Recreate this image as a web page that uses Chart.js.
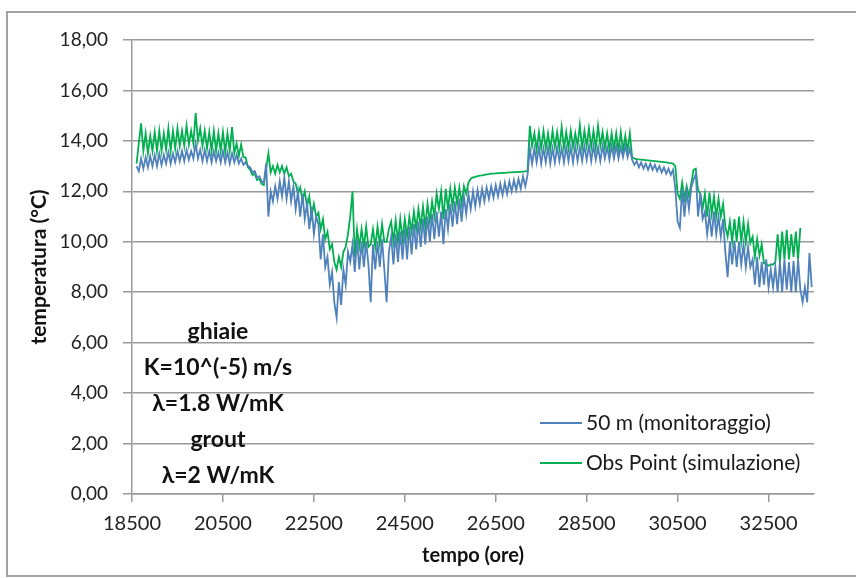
<!DOCTYPE html>
<html>
<head>
<meta charset="utf-8">
<script src="https://cdn.jsdelivr.net/npm/chart.js@4.4.0/dist/chart.umd.min.js"></script>
<style>
  html, body { margin: 0; padding: 0; background: #fff; }
  #frame { position: absolute; left: 6px; top: 11px; width: 900px; height: 566px; border: 2px solid #a3a3a3; box-sizing: border-box; }
  #chart { position: absolute; left: 0; top: 0; }
</style>
</head>
<body>
<div id="frame"></div>
<canvas id="chart" width="856" height="578"></canvas>
<script>
// tempo (ore), one row = 500 h
const hours = [
  18600, 18650, 18700, 18750, 18800, 18850, 18900, 18950, 19000, 19050,
  19100, 19150, 19200, 19250, 19300, 19350, 19400, 19450, 19500, 19550,
  19600, 19650, 19700, 19750, 19800, 19850, 19900, 19950, 20000, 20050,
  20100, 20150, 20200, 20250, 20300, 20350, 20400, 20450, 20500, 20550,
  20600, 20650, 20700, 20750, 20800, 20850, 20900, 20950, 21000, 21050,
  21100, 21150, 21200, 21250, 21300, 21350, 21400, 21450, 21500, 21550,
  21600, 21650, 21700, 21750, 21800, 21850, 21900, 21950, 22000, 22050,
  22100, 22150, 22200, 22250, 22300, 22350, 22400, 22450, 22500, 22550,
  22600, 22650, 22700, 22750, 22800, 22850, 22900, 22950, 23000, 23050,
  23100, 23150, 23200, 23250, 23300, 23350, 23400, 23450, 23500, 23550,
  23600, 23650, 23700, 23750, 23800, 23850, 23900, 23950, 24000, 24050,
  24100, 24150, 24200, 24250, 24300, 24350, 24400, 24450, 24500, 24550,
  24600, 24650, 24700, 24750, 24800, 24850, 24900, 24950, 25000, 25050,
  25100, 25150, 25200, 25250, 25300, 25350, 25400, 25450, 25500, 25550,
  25600, 25650, 25700, 25750, 25800, 25850, 25900, 25950, 26000, 26050,
  26100, 26150, 26200, 26250, 26300, 26350, 26400, 26450, 26500, 26550,
  26600, 26650, 26700, 26750, 26800, 26850, 26900, 26950, 27000, 27050,
  27100, 27150, 27200, 27250, 27300, 27350, 27400, 27450, 27500, 27550,
  27600, 27650, 27700, 27750, 27800, 27850, 27900, 27950, 28000, 28050,
  28100, 28150, 28200, 28250, 28300, 28350, 28400, 28450, 28500, 28550,
  28600, 28650, 28700, 28750, 28800, 28850, 28900, 28950, 29000, 29050,
  29100, 29150, 29200, 29250, 29300, 29350, 29400, 29450, 29500, 29550,
  29600, 29650, 29700, 29750, 29800, 29850, 29900, 29950, 30000, 30050,
  30100, 30150, 30200, 30250, 30300, 30350, 30400, 30450, 30500, 30550,
  30600, 30650, 30700, 30750, 30800, 30850, 30900, 30950, 31000, 31050,
  31100, 31150, 31200, 31250, 31300, 31350, 31400, 31450, 31500, 31550,
  31600, 31650, 31700, 31750, 31800, 31850, 31900, 31950, 32000, 32050,
  32100, 32150, 32200, 32250, 32300, 32350, 32400, 32450, 32500, 32550,
  32600, 32650, 32700, 32750, 32800, 32850, 32900, 32950, 33000, 33050,
  33100, 33150, 33200, 33250, 33300, 33350, 33400, 33450
];

// 50 m (monitoraggio)
const monitoraggio = [
  13.0, 12.8, 13.3, 12.9, 13.35, 12.95, 13.4, 13.0, 13.45, 13.0,
  13.5, 13.05, 13.45, 13.1, 13.55, 13.1, 13.5, 13.15, 13.6, 13.2,
  13.6, 13.2, 13.65, 13.25, 13.6, 13.3, 13.9, 13.3, 13.65, 13.2,
  13.65, 13.2, 13.6, 13.15, 13.6, 13.2, 13.55, 13.15, 13.6, 13.15,
  13.55, 13.1, 13.5, 13.15, 13.45, 13.1, 13.3, 13.05, 13.15, 13.0,
  12.95, 12.75, 12.8, 12.55, 12.6, 12.4, 12.35, 13.1, 11.0, 12.0,
  11.6, 12.2, 11.7, 12.4, 11.8, 12.55, 11.7, 12.4, 11.6, 12.2,
  11.3, 12.0, 11.0, 11.9, 10.9, 11.5, 10.5, 11.4, 10.3, 11.0,
  10.7, 9.3, 10.3, 9.0, 9.4, 8.3, 8.8, 7.6, 7.0, 8.4,
  7.5, 8.9, 8.3, 9.6, 9.2, 9.9, 8.8, 10.1, 8.9, 10.0,
  9.0, 10.0, 9.1, 7.6, 9.9, 8.9, 10.0, 9.0, 10.1, 8.9,
  7.6, 9.6, 10.2, 9.1, 10.3, 9.2, 10.4, 9.3, 10.5, 9.3,
  10.6, 9.5, 10.7, 9.7, 10.8, 9.8, 10.9, 9.9, 11.0, 10.0,
  11.1, 10.1, 11.2, 10.2, 11.2, 9.9, 11.3, 10.5, 11.5, 10.6,
  11.6, 10.7, 11.7, 10.8, 11.8, 11.1, 11.9, 11.3, 12.0, 11.4,
  12.05, 11.5, 12.1, 11.6, 12.15, 11.7, 12.2, 11.75, 12.25, 11.8,
  12.3, 11.85, 12.35, 11.9, 12.4, 12.0, 12.45, 12.05, 12.5, 12.1,
  12.6, 12.2, 12.65, 13.7, 13.1, 13.7, 13.15, 13.75, 13.1, 13.7,
  13.15, 13.75, 13.1, 13.7, 13.15, 13.75, 13.2, 13.7, 13.15, 13.75,
  13.2, 13.75, 13.15, 13.8, 13.2, 13.75, 13.2, 13.8, 13.25, 13.8,
  13.2, 13.8, 13.25, 13.75, 13.2, 13.8, 13.3, 13.75, 13.25, 13.8,
  13.3, 13.8, 13.3, 13.75, 13.35, 13.8, 13.35, 13.7, 13.25, 13.05,
  13.2, 12.95, 13.15, 12.9, 13.1, 12.85, 13.1, 12.85, 13.05, 12.8,
  13.0, 12.75, 12.95, 12.7, 12.9, 12.65, 12.85, 12.1, 10.8, 10.55,
  12.1, 11.0, 12.0, 11.3, 12.15, 12.45, 12.7, 11.0, 11.9, 10.9,
  11.2, 10.3, 11.1, 10.2, 11.2, 10.3, 11.0, 10.2, 10.9, 9.6,
  8.6, 10.0, 9.1, 10.05, 9.0, 10.0, 9.1, 9.9, 9.0, 9.8,
  9.0, 9.3, 8.3, 9.4, 8.2, 9.2, 8.3, 9.3, 8.2, 8.9,
  8.2, 9.0, 8.0, 9.2, 8.0, 9.3, 8.1, 9.2, 8.0, 9.25,
  8.0, 9.3, 8.1, 7.6, 8.2, 7.6, 9.55, 8.2
];

// Obs Point (simulazione)
const simulazione = [
  13.1, 13.9, 14.7, 13.6, 14.3, 13.5, 14.2, 13.6, 14.35, 13.6,
  14.4, 13.6, 14.3, 13.65, 14.5, 13.6, 14.4, 13.7, 14.5, 13.8,
  14.4, 13.8, 14.6, 13.85, 14.4, 13.9, 15.1, 14.0, 14.5, 13.8,
  14.4, 13.7, 14.35, 13.6, 14.4, 13.6, 14.3, 13.6, 14.35, 13.55,
  14.3, 13.6, 14.55, 13.5, 13.9, 13.4, 13.85, 13.35, 13.35, 12.95,
  12.85, 12.65, 12.7, 12.45, 12.5, 12.3, 12.25, 12.9, 13.5, 12.75,
  13.0, 12.7, 13.05, 12.75, 13.0, 12.7, 12.95, 12.6, 12.7, 12.4,
  12.3, 11.9, 12.15, 11.65, 12.0, 11.4, 11.8, 11.0, 11.5, 11.0,
  11.15, 10.5, 10.9, 10.1, 10.4, 9.7, 9.9, 9.2, 8.9, 9.4,
  9.0, 9.6, 9.8, 10.3, 11.0, 12.0, 9.4, 10.5, 9.8, 10.5,
  9.8, 10.6, 9.8, 9.9, 10.5, 9.8, 10.6, 9.9, 10.7, 10.0,
  10.0, 10.5, 10.8, 10.0, 10.85, 10.0, 10.9, 10.1, 10.9, 10.2,
  11.0, 10.4, 11.2, 10.5, 11.3, 10.6, 11.4, 10.6, 11.5, 10.8,
  11.6, 11.0, 11.9, 11.3, 12.0, 10.9, 12.1, 11.3, 12.1, 11.4,
  12.15, 11.5, 12.15, 11.5, 12.2, 11.9, 12.35, 12.5, 12.55, 12.57,
  12.6, 12.62, 12.63, 12.65, 12.67, 12.68, 12.7, 12.7, 12.71, 12.72,
  12.72, 12.73, 12.73, 12.74, 12.75, 12.75, 12.76, 12.76, 12.77, 12.77,
  12.78, 12.79, 12.8, 14.6, 13.8, 14.3, 13.65, 14.35, 13.7, 14.4,
  13.7, 14.3, 13.65, 14.4, 13.75, 14.35, 13.7, 14.55, 13.7, 14.35,
  13.7, 14.4, 13.75, 14.3, 13.8, 14.63, 13.7, 14.4, 13.8, 14.5,
  13.75, 14.4, 13.7, 14.6, 13.8, 14.35, 13.7, 14.3, 13.65, 14.3,
  13.65, 14.3, 13.6, 14.35, 13.6, 14.2, 13.6, 14.3, 13.35, 13.3,
  13.28, 13.27, 13.26, 13.25, 13.24, 13.23, 13.22, 13.21, 13.2, 13.19,
  13.18, 13.17, 13.16, 13.15, 13.13, 13.12, 13.1, 13.0, 11.9, 11.7,
  12.35, 11.7, 12.2, 11.8, 12.3, 12.85, 12.9, 12.05, 11.9, 11.3,
  11.9, 11.0, 11.95, 11.1, 11.8, 11.0, 11.7, 11.0, 11.5, 10.6,
  10.2, 10.8, 10.0, 10.9, 10.0, 11.0, 10.0, 10.8, 9.95, 10.7,
  9.95, 10.2, 9.4, 10.1, 9.45, 9.9, 9.15, 9.1, 9.05, 9.1,
  9.1, 9.2, 10.3, 9.2, 10.4, 9.3, 10.47, 9.3, 10.3, 9.4,
  10.4, 9.3, 10.55, null, null, null, null, null
];

const xTicks = [18500, 20500, 22500, 24500, 26500, 28500, 30500, 32500];
const yTicks = [0, 2, 4, 6, 8, 10, 12, 14, 16, 18];
const seriesLabels = ['50 m (monitoraggio)', 'Obs Point (simulazione)'];
const noteLines = ['ghiaie', 'K=10^(-5) m/s', 'λ=1.8 W/mK', 'grout', 'λ=2 W/mK'];

const FONT = 'Lato, "Open Sans", sans-serif';

// text box in the lower left of the plot
const notes = {
  id: 'notes',
  afterDraw(chart) {
    const ctx = chart.ctx;
    ctx.save();
    ctx.font = 'bold 23px ' + FONT;
    ctx.fillStyle = '#111';
    ctx.textAlign = 'center';
    ctx.textBaseline = 'middle';
    noteLines.forEach((t, i) => ctx.fillText(t, 218, 332 + i * 35.8));
    ctx.restore();
  }
};

// legend sits inside the plot, bottom right
const insideLegend = {
  id: 'insideLegend',
  afterDraw(chart) {
    const ctx = chart.ctx;
    ctx.save();
    ctx.font = '21px ' + FONT;
    ctx.textBaseline = 'middle';
    chart.data.datasets.forEach((ds, i) => {
      const y = 423 + i * 40;
      ctx.strokeStyle = ds.borderColor;
      ctx.lineWidth = 2;
      ctx.beginPath();
      ctx.moveTo(540, y);
      ctx.lineTo(582, y);
      ctx.stroke();
      ctx.fillStyle = '#1a1a1a';
      ctx.fillText(ds.label, 586, y);
    });
    ctx.restore();
  }
};

const toPoints = (vals) => hours.map((h, i) => ({ x: h, y: vals[i] }));

new Chart(document.getElementById('chart'), {
  type: 'line',
  data: {
    datasets: [
      { label: seriesLabels[0], data: toPoints(monitoraggio), borderColor: '#4F81BD', borderWidth: 1.8, pointRadius: 0, tension: 0 },
      { label: seriesLabels[1], data: toPoints(simulazione), borderColor: '#00B050', borderWidth: 1.8, pointRadius: 0, tension: 0 }
    ]
  },
  options: {
    responsive: false,
    animation: false,
    devicePixelRatio: 1,
    layout: { padding: { top: 40, right: 42, left: 0, bottom: 0 } },
    plugins: { legend: { display: false }, tooltip: { enabled: false } },
    scales: {
      x: {
        type: 'linear',
        min: 18500,
        max: 33500,
        afterBuildTicks: (s) => { s.ticks = xTicks.map(v => ({ value: v })); },
        afterFit: (s) => { s.height = 84; },
        grid: { drawOnChartArea: false, drawTicks: true, tickLength: 8, color: '#999', lineWidth: 1.5 },
        border: { display: true, color: '#999', width: 1.5 },
        ticks: { padding: 10, autoSkip: false, maxRotation: 0, color: '#222',
          font: { family: FONT, size: 20 }, callback: (v) => String(v) },
        title: { display: true, text: 'tempo (ore)', color: '#111',
          font: { family: FONT, size: 20, weight: 'bold' }, padding: { top: 0, bottom: 10 } }
      },
      y: {
        min: 0,
        max: 18,
        afterBuildTicks: (s) => { s.ticks = yTicks.map(v => ({ value: v })); },
        afterFit: (s) => { s.width = 132; },
        grid: { color: '#999', lineWidth: 1.5, tickLength: 9 },
        border: { color: '#999', width: 1.5 },
        ticks: { padding: 15, color: '#222', font: { family: FONT, size: 19 },
          callback: (v) => Number(v).toFixed(2).replace('.', ',') },
        title: { display: true, text: 'temperatura (°C)', color: '#111',
          font: { family: FONT, size: 21, weight: 'bold' }, padding: { top: 27, bottom: 0 } }
      }
    }
  },
  plugins: [notes, insideLegend]
});
</script>
</body>
</html>
